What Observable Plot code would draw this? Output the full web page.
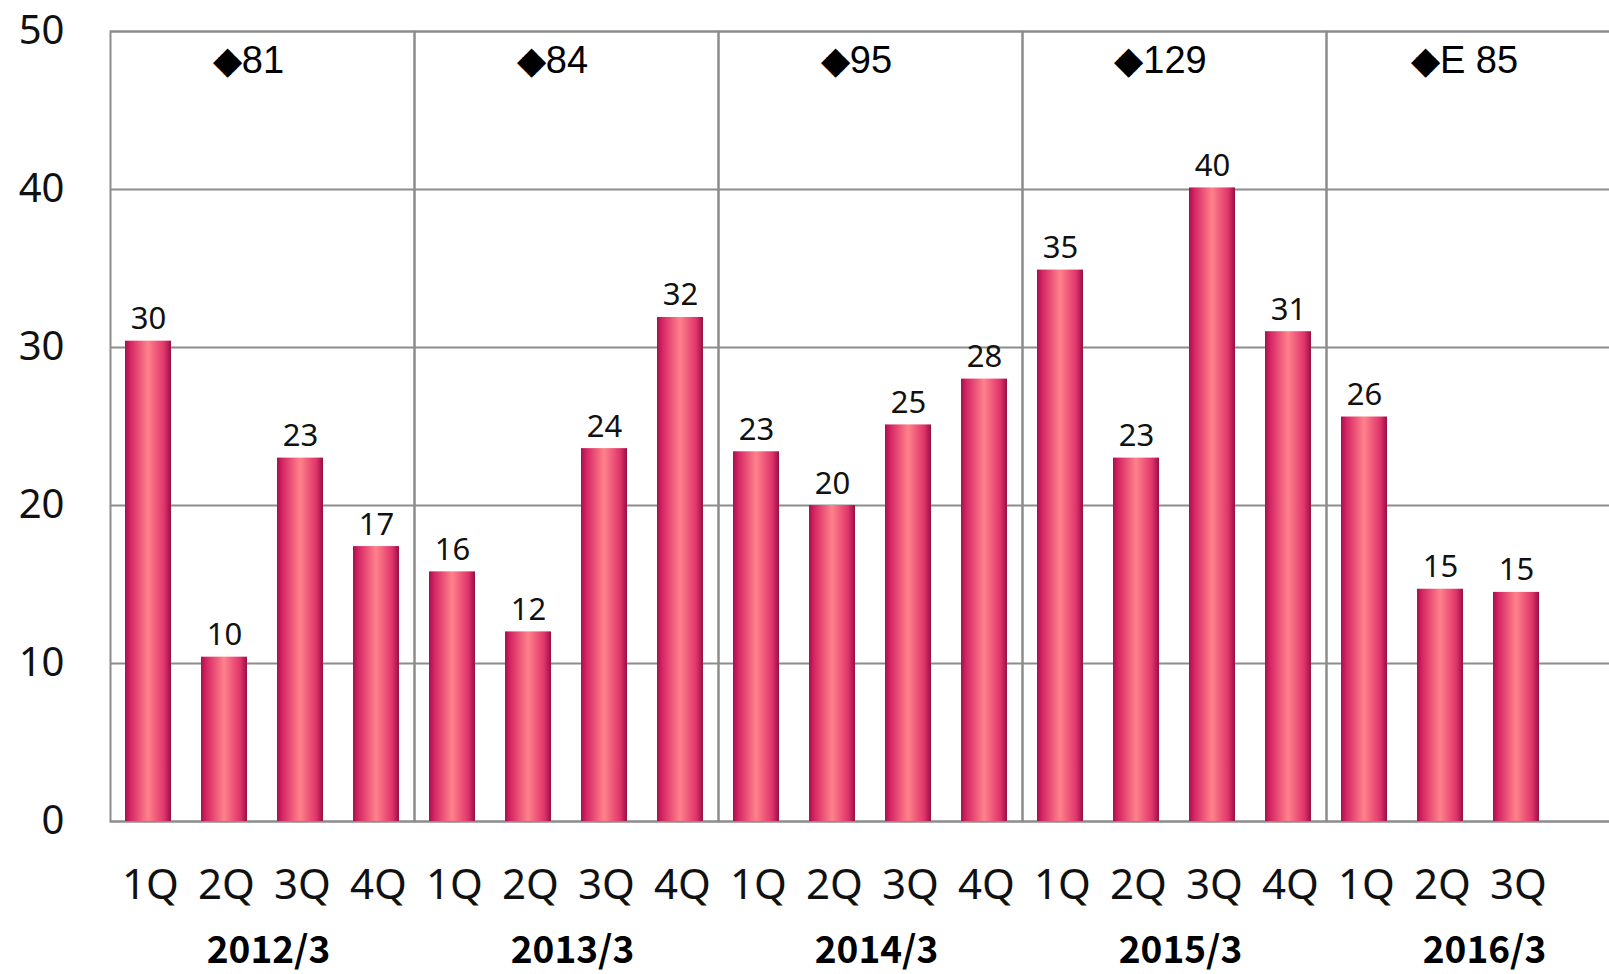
<!DOCTYPE html>
<html>
<head>
<meta charset="utf-8">
<script src="https://cdn.jsdelivr.net/npm/d3@7"></script>
<script src="https://cdn.jsdelivr.net/npm/@observablehq/plot@0.6"></script>
<style>
  html, body { margin: 0; padding: 0; background: #fff; }
  #chart { width: 1609px; height: 974px; overflow: hidden; }
  svg { font-family: "Noto Sans", sans-serif; }
</style>
</head>
<body>
<div id="chart"></div>
<script>
const years = ["2012/3", "2013/3", "2014/3", "2015/3", "2016/3"];
const quarters = ["1Q", "2Q", "3Q", "4Q"];
const values = [30.4, 10.4, 23.0, 17.4, 15.8, 12.0, 23.6, 31.9, 23.4, 20.0, 25.1, 28.0, 34.9, 23.0, 40.1, 31.0, 25.6, 14.7, 14.5];
const labels = ["30", "10", "23", "17", "16", "12", "24", "32", "23", "20", "25", "28", "35", "23", "40", "31", "26", "15", "15"];
const totals = ["◆81", "◆84", "◆95", "◆129", "◆E 85"];
const yTicks = [0, 10, 20, 30, 40, 50];

const rows = values.map((v, i) => ({
  year: years[Math.floor(i / 4)],
  q: quarters[i % 4],
  value: v,
  label: labels[i]
}));
const totalRows = years.map((y, i) => ({year: y, total: totals[i]}));

const grid = "#8c8c8c";

const chart = Plot.plot({
  width: 1609,
  height: 974,
  marginLeft: 109,
  marginRight: -22,
  marginTop: 31,
  marginBottom: 153,
  fx: {domain: years, padding: 0, label: null},
  x: {domain: quarters, paddingInner: 0.4, paddingOuter: 0.2, axis: null},
  y: {domain: [0, 50], axis: null},
  marks: [
    Plot.ruleY(yTicks, {stroke: grid, strokeWidth: 2}),
    Plot.frame({stroke: grid, strokeWidth: 2}),
    Plot.barY(rows, {fx: "year", x: "q", y: "value", fill: "url(#barGrad)"}),
    Plot.text(rows, {fx: "year", x: "q", y: "value", text: "label", lineAnchor: "bottom", dy: -12, fontSize: 31, fill: "#111"}),
    Plot.text(rows, {fx: "year", x: "q", text: "q", frameAnchor: "bottom", lineAnchor: "middle", dy: 64, dx: 2, fontSize: 42, fill: "#111"}),
    Plot.text(totalRows, {fx: "year", text: "total", frameAnchor: "top", lineAnchor: "middle", dy: 29, dx: -14, fontSize: 38, fontFamily: "Liberation Sans, Arial, sans-serif", fill: "#000"}),
    Plot.axisY(yTicks, {tickSize: 0, tickPadding: 46, fontSize: 40, label: null, fill: "#111"}),
    Plot.axisFx({anchor: "bottom", tickSize: 0, tickPadding: 115, fontSize: 37, fontWeight: "bold", fontFamily: "Noto Sans CJK JP", label: null, dx: 6, fill: "#000"})
  ]
});

// horizontal cylinder-like gradient for the bars
const ns = "http://www.w3.org/2000/svg";
const defs = document.createElementNS(ns, "defs");
defs.innerHTML = `
  <linearGradient id="barGrad" x1="0" x2="1" y1="0" y2="0">
    <stop offset="0" stop-color="#a3124c"/>
    <stop offset="0.12" stop-color="#d62664"/>
    <stop offset="0.5" stop-color="#ff828b"/>
    <stop offset="0.85" stop-color="#e0356a"/>
    <stop offset="1" stop-color="#980f45"/>
  </linearGradient>`;
chart.insertBefore(defs, chart.firstChild);
document.getElementById("chart").appendChild(chart);
</script>
</body>
</html>
